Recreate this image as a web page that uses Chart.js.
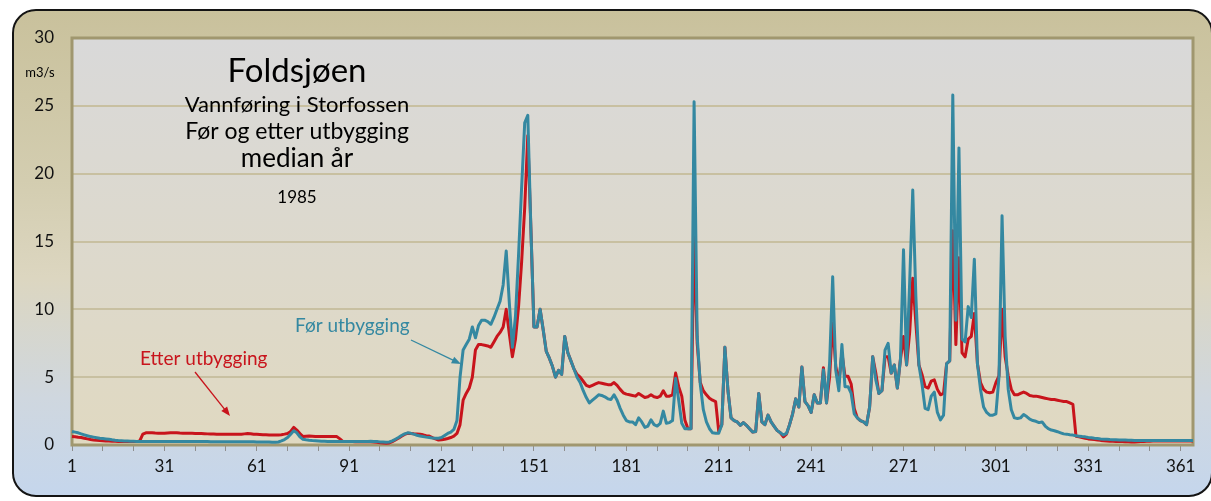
<!DOCTYPE html>
<html lang="no">
<head>
<meta charset="utf-8">
<title>Foldsjøen - vannføring i Storfossen</title>
<script src="https://cdn.jsdelivr.net/npm/chart.js@4.4.1/dist/chart.umd.min.js"></script>
<style>
  html, body { margin: 0; padding: 0; background: #fff; overflow: hidden; }
  #wrap { position: relative; width: 1211px; height: 501px; overflow: hidden; }
  #frame {
    position: absolute; left: 12px; top: 9px; width: 1197px; height: 484px;
    border: 2px solid #141414; border-radius: 24px;
    background: linear-gradient(to bottom, #c9c19c 0%, #d3cdb0 35%, #dcd6c0 55%, #cfd7df 80%, #c5d6ec 100%);
  }
  #chart { position: absolute; left: 0; top: 0; }
</style>
</head>
<body>
<div id="wrap">
  <div id="frame"></div>
  <canvas id="chart" width="1211" height="501"></canvas>
</div>
<script>
// === Data (m3/s per day of year) ===
const days = Array.from({ length: 365 }, (_, i) => i + 1);
const labelDays = [1, 31, 61, 91, 121, 151, 181, 211, 241, 271, 301, 331, 361];
const tickEvery = 10;
const yTicks = [0, 5, 10, 15, 20, 25, 30];

// Før utbygging (before regulation)
const forUtbygging = [
  1.0, 0.95, 0.9, 0.82, 0.75, 0.68, 0.62, 0.58, 0.54, 0.5,
  0.48, 0.45, 0.42, 0.38, 0.35, 0.33, 0.32, 0.3, 0.3, 0.28,
  0.27, 0.26, 0.25, 0.25, 0.25, 0.25, 0.25, 0.25, 0.25, 0.25,
  0.25, 0.25, 0.25, 0.25, 0.25, 0.25, 0.25, 0.25, 0.25, 0.25,
  0.25, 0.25, 0.25, 0.25, 0.25, 0.24, 0.24, 0.24, 0.24, 0.24,
  0.24, 0.24, 0.24, 0.24, 0.24, 0.24, 0.24, 0.24, 0.24, 0.24,
  0.23, 0.23, 0.22, 0.22, 0.22, 0.2, 0.2, 0.22, 0.3, 0.4,
  0.55, 0.8, 1.05, 0.9, 0.6, 0.42, 0.38, 0.35, 0.33, 0.32,
  0.3, 0.28, 0.27, 0.26, 0.25, 0.25, 0.25, 0.25, 0.25, 0.25,
  0.25, 0.25, 0.25, 0.25, 0.25, 0.25, 0.26, 0.27, 0.26, 0.25,
  0.23, 0.22, 0.2, 0.22, 0.3, 0.42, 0.55, 0.7, 0.82, 0.9,
  0.86, 0.8, 0.72, 0.67, 0.62, 0.58, 0.55, 0.52, 0.5, 0.5,
  0.55, 0.7, 0.85, 0.95, 1.15, 1.8, 5.0, 7.0, 7.4, 7.8,
  8.7, 7.9, 8.8, 9.2, 9.2, 9.1, 8.9, 9.4, 10.0, 10.6,
  11.8, 14.3, 10.5, 7.2, 9.5, 14.0, 19.0, 23.75, 24.3, 16.0,
  8.7, 8.7, 10.0, 8.5, 6.9, 6.4, 5.8, 5.0, 5.5, 5.2,
  8.0, 6.8, 6.2, 5.6, 5.0, 4.6, 4.0, 3.5, 3.1, 3.3,
  3.5, 3.7, 3.65, 3.55, 3.4, 3.35, 3.7, 3.3, 2.7, 2.2,
  1.8, 1.7, 1.7, 1.5, 2.0, 1.7, 1.3, 1.4, 1.85, 1.5,
  1.4, 1.6, 2.5, 1.6, 1.65, 1.8, 4.9, 3.3, 1.6, 1.2,
  1.2, 1.2, 25.3, 8.0, 4.5, 2.6, 1.7, 1.2, 0.9, 0.86,
  0.86, 1.5, 7.2, 4.0, 2.0, 1.8, 1.7, 1.45, 1.65, 1.45,
  1.2, 0.95, 1.0, 3.8, 1.7, 1.5, 2.2, 1.7, 1.38, 1.06,
  0.9, 0.74, 0.85, 1.5, 2.3, 3.4, 2.8, 5.75, 3.2, 2.9,
  2.4, 3.7, 3.1, 3.1, 5.55, 3.1, 6.0, 12.4, 5.5, 4.0,
  7.4, 4.3, 4.3, 3.8, 2.3, 2.0, 1.8, 1.7, 1.5, 2.8,
  6.5, 4.8, 3.8, 4.0, 7.0, 7.5, 5.3, 5.9, 4.2, 6.3,
  14.4, 5.9, 12.0, 18.8, 11.0, 5.9, 4.5, 2.7, 2.6, 3.6,
  3.9, 2.4, 1.85, 2.2, 6.0, 6.2, 25.8, 9.2, 21.9, 7.8,
  7.6, 10.2, 9.4, 13.7, 6.0, 4.1, 2.8, 2.4, 2.2, 2.2,
  2.3, 5.0, 16.9, 8.0, 4.1, 2.6, 2.0, 1.95, 2.0, 2.25,
  2.1, 1.9, 1.8, 1.75, 1.65, 1.7, 1.4, 1.2, 1.1, 1.05,
  0.98, 0.9, 0.82, 0.8, 0.76, 0.73, 0.68, 0.65, 0.62, 0.6,
  0.56, 0.53, 0.5, 0.48, 0.45, 0.43, 0.42, 0.4, 0.39, 0.38,
  0.37, 0.36, 0.36, 0.35, 0.35, 0.34, 0.34, 0.34, 0.34, 0.34,
  0.34, 0.34, 0.34, 0.34, 0.34, 0.34, 0.34, 0.34, 0.34, 0.34,
  0.34, 0.34, 0.34, 0.34, 0.34
];

// Etter utbygging (after regulation)
const etterUtbygging = [
  0.62, 0.6, 0.57, 0.55, 0.5, 0.45, 0.4, 0.37, 0.35, 0.33,
  0.32, 0.3, 0.3, 0.28, 0.27, 0.26, 0.25, 0.25, 0.25, 0.25,
  0.25, 0.25, 0.3, 0.8, 0.9, 0.9, 0.9, 0.88, 0.87, 0.86,
  0.86, 0.88, 0.9, 0.91, 0.9, 0.88, 0.87, 0.87, 0.86, 0.86,
  0.85, 0.85, 0.84, 0.83, 0.82, 0.81, 0.81, 0.8, 0.8, 0.8,
  0.79, 0.79, 0.79, 0.8, 0.8, 0.8, 0.82, 0.84, 0.83, 0.8,
  0.79, 0.78, 0.76, 0.75, 0.74, 0.74, 0.73, 0.74, 0.76, 0.8,
  0.85, 1.0, 1.3, 1.1, 0.85, 0.62, 0.65, 0.66, 0.65, 0.63,
  0.62, 0.62, 0.62, 0.62, 0.62, 0.62, 0.62, 0.45, 0.25, 0.25,
  0.25, 0.25, 0.24, 0.24, 0.24, 0.24, 0.24, 0.24, 0.22, 0.2,
  0.17, 0.14, 0.12, 0.15, 0.25, 0.38, 0.5, 0.65, 0.78, 0.86,
  0.85, 0.83, 0.82, 0.8, 0.75, 0.68, 0.66, 0.55, 0.45, 0.37,
  0.38, 0.42, 0.48, 0.55, 0.65, 0.85, 1.5, 3.3, 3.8, 4.2,
  5.0, 7.0, 7.4, 7.4, 7.35, 7.3, 7.2, 7.6, 8.0, 8.3,
  8.7, 10.0, 8.2, 6.5, 7.8, 10.2, 13.5, 17.5, 22.8, 16.0,
  8.7, 8.7, 10.0, 8.5, 6.9, 6.4, 5.8, 5.0, 5.5, 5.2,
  8.0, 6.8, 6.2, 5.6, 5.2, 5.0, 4.7, 4.4, 4.3, 4.4,
  4.5, 4.6, 4.55, 4.5, 4.45, 4.45, 4.6, 4.4, 4.1, 3.85,
  3.75, 3.7, 3.65, 3.6, 3.8, 3.65, 3.5, 3.55, 3.7, 3.55,
  3.5, 3.6, 4.0, 3.6, 3.6, 3.7, 5.3, 4.3, 3.6, 1.85,
  1.2, 1.2, 15.6, 7.5, 4.6, 4.0, 3.7, 3.45, 3.3, 3.2,
  1.0, 1.5, 7.2, 4.0, 2.0, 1.8, 1.7, 1.45, 1.65, 1.45,
  1.2, 0.95, 1.0, 3.8, 1.7, 1.5, 2.2, 1.7, 1.38, 1.06,
  0.9, 0.6, 0.8, 1.5, 2.3, 3.4, 2.8, 5.75, 3.2, 2.9,
  2.4, 3.7, 3.1, 3.1, 5.7, 3.1, 5.0, 9.0, 5.8, 4.6,
  6.8, 5.06, 5.06, 4.5, 2.7, 2.0, 1.8, 1.7, 1.5, 2.8,
  6.5, 5.3, 3.8, 4.0, 6.5, 6.5, 5.3, 5.9, 4.2, 6.3,
  8.0, 5.9, 8.3, 12.3, 9.0, 5.9, 5.2, 4.3, 4.2, 4.7,
  4.8, 4.1, 3.7, 3.8, 6.0, 6.2, 15.8, 7.4, 13.8, 6.8,
  6.5, 7.8, 8.0, 9.7, 6.0, 4.6, 4.1, 3.9, 3.85, 3.9,
  4.6, 5.1, 10.0, 6.5, 5.1, 4.1, 3.7, 3.7, 3.8, 3.9,
  3.8, 3.65, 3.6, 3.6, 3.55, 3.5, 3.45, 3.4, 3.35, 3.35,
  3.3, 3.25, 3.2, 3.2, 3.1, 3.0, 0.65, 0.6, 0.55, 0.5,
  0.45, 0.42, 0.4, 0.37, 0.34, 0.32, 0.3, 0.28, 0.27, 0.26,
  0.25, 0.25, 0.24, 0.24, 0.23, 0.23, 0.24, 0.25, 0.26, 0.27,
  0.28, 0.29, 0.3, 0.3, 0.3, 0.3, 0.3, 0.3, 0.3, 0.3,
  0.3, 0.3, 0.3, 0.3, 0.3
];

const FONT = "Lato, 'Open Sans', sans-serif";
const TEAL = "#3488a1";
const RED = "#c8141c";

// === Plot area background + frame ===
const plotArea = {
  id: "plotArea",
  beforeDraw(chart) {
    const { ctx, chartArea: a } = chart;
    const g = ctx.createLinearGradient(0, a.top, 0, a.bottom);
    g.addColorStop(0, "#d9d9d9");
    g.addColorStop(1, "#e0d9c1");
    ctx.save();
    ctx.fillStyle = g;
    ctx.fillRect(a.left, a.top, a.right - a.left, a.bottom - a.top);
    ctx.restore();
  },
  beforeDatasetsDraw(chart) {
    const { ctx, chartArea: a } = chart;
    ctx.save();
    ctx.strokeStyle = "#a0976f";
    ctx.lineWidth = 3;
    ctx.strokeRect(a.left, a.top, a.right - a.left, a.bottom - a.top);
    ctx.restore();
  }
};

function arrow(ctx, x1, y1, x2, y2, color) {
  const ang = Math.atan2(y2 - y1, x2 - x1);
  ctx.strokeStyle = color;
  ctx.fillStyle = color;
  ctx.lineWidth = 1.3;
  ctx.beginPath();
  ctx.moveTo(x1, y1);
  ctx.lineTo(x2 - 6 * Math.cos(ang), y2 - 6 * Math.sin(ang));
  ctx.stroke();
  ctx.beginPath();
  ctx.moveTo(x2, y2);
  ctx.lineTo(x2 - 10 * Math.cos(ang - 0.38), y2 - 10 * Math.sin(ang - 0.38));
  ctx.lineTo(x2 - 10 * Math.cos(ang + 0.38), y2 - 10 * Math.sin(ang + 0.38));
  ctx.closePath();
  ctx.fill();
}

// === Titles, unit and series annotations ===
const texts = {
  id: "texts",
  afterDraw(chart) {
    const ctx = chart.ctx;
    ctx.save();
    ctx.textAlign = "center";
    ctx.textBaseline = "alphabetic";
    ctx.fillStyle = "#000";
    ctx.font = "33px " + FONT;
    ctx.fillText("Foldsjøen", 297, 82);
    ctx.font = "22px " + FONT;
    ctx.fillText("Vannføring i Storfossen", 297, 112);
    ctx.font = "23px " + FONT;
    ctx.fillText("Før og etter utbygging", 297, 139);
    ctx.font = "26px " + FONT;
    ctx.fillText("median år", 297, 167);
    ctx.font = "17px " + FONT;
    ctx.fillText("1985", 297, 203);
    ctx.font = "13px " + FONT;
    ctx.fillText("m3/s", 40, 77);

    ctx.textAlign = "left";
    ctx.font = "19px " + FONT;
    ctx.fillStyle = RED;
    ctx.fillText("Etter utbygging", 140, 365);
    ctx.fillStyle = TEAL;
    ctx.fillText("Før utbygging", 295, 332);

    arrow(ctx, 195, 372, 230, 416, RED);
    arrow(ctx, 411, 340, 461, 364, TEAL);
    ctx.restore();
  }
};

new Chart(document.getElementById("chart"), {
  type: "line",
  data: {
    labels: days,
    datasets: [
      {
        label: "Før utbygging",
        data: forUtbygging,
        borderColor: TEAL,
        borderWidth: 3,
        pointRadius: 0,
        tension: 0,
        borderJoinStyle: "round",
      },
      {
        label: "Etter utbygging",
        data: etterUtbygging,
        borderColor: RED,
        borderWidth: 3,
        pointRadius: 0,
        tension: 0,
        borderJoinStyle: "round",
      },
    ],
  },
  options: {
    responsive: false,
    animation: false,
    layout: { padding: { left: 0, top: 38, right: 18, bottom: 0 } },
    plugins: { legend: { display: false }, tooltip: { enabled: false } },
    scales: {
      x: {
        type: "category",
        offset: false,
        border: { display: false },
        grid: { drawOnChartArea: false, drawTicks: true, tickLength: 6, color: "#8e8e8e", lineWidth: 1 },
        ticks: {
          autoSkip: false,
          maxRotation: 0,
          padding: 5,
          color: "#111",
          font: { family: FONT, size: 17 },
          callback(value) {
            const d = days[value];
            return labelDays.includes(d) ? String(d) : "";
          },
        },
        afterBuildTicks(axis) {
          axis.ticks = axis.ticks.filter((t) => (days[t.value] - 1) % tickEvery === 0);
        },
        afterFit(axis) { axis.height = 56; },
      },
      y: {
        min: 0,
        max: 30,
        border: { display: false },
        grid: { color: "#c8c0a1", lineWidth: 2, drawTicks: false },
        ticks: {
          stepSize: 5,
          padding: 18,
          color: "#111",
          font: { family: FONT, size: 17 },
        },
        afterBuildTicks(axis) { axis.ticks = yTicks.map((v) => ({ value: v })); },
        afterFit(axis) { axis.width = 72; },
      },
    },
  },
  plugins: [plotArea, texts],
});
</script>
</body>
</html>
